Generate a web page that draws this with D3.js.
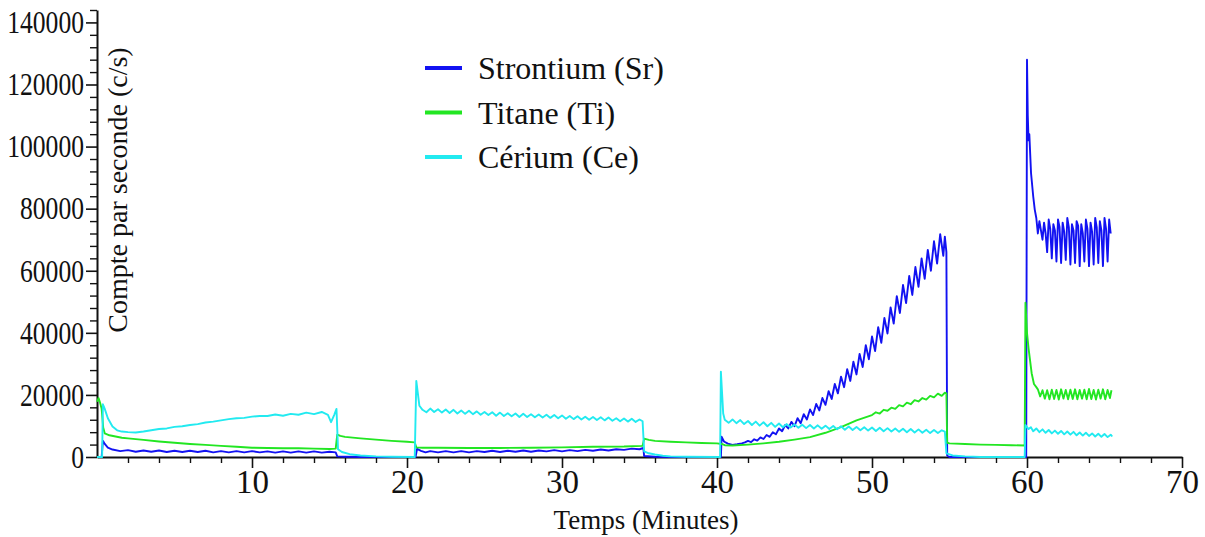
<!DOCTYPE html>
<html lang="fr">
  <head>
    <meta charset="UTF-8" />
    <title>Compte par seconde : Sr, Ti, Ce</title>
    <script src="https://d3js.org/d3.v7.min.js"></script>
    <style>
      body { margin: 0; background: #fff; }
      svg text { font-family: "Liberation Serif", "Times New Roman", serif; fill: #111; }
      .axis path, .axis line { stroke: #111; }
    </style>
  </head>
  <body>
    <svg id="chart" width="1205" height="537"></svg>
    <script>
      // tick labels
      const xTicks = [10, 20, 30, 40, 50, 60, 70];
      const yTicks = [0, 20000, 40000, 60000, 80000, 100000, 120000, 140000];

      // series names and colours
      const seriesNames = ["Strontium (Sr)", "Titane (Ti)", "Cérium (Ce)"];
      const seriesColors = ["#1212f2", "#22e622", "#22eaf0"];

      // [minute, counts per second]
      const strontium = [
        [0, 0], [0.3, 0], [0.38, 5200], [0.5, 4200], [0.7, 3000], [1.0, 2400], [1.5, 1900], [2.0, 2200],
        [2.5, 1700], [3.0, 2100], [3.5, 1700], [4.0, 2100], [4.5, 1600], [5.0, 2000], [5.5, 1600], [6.0, 2000],
        [6.5, 1600], [7.0, 2000], [7.5, 1500], [8.0, 1900], [8.5, 1500], [9.0, 1900], [9.5, 1500], [10.0, 1900],
        [10.5, 1500], [11.0, 1800], [11.5, 1400], [12.0, 1800], [12.5, 1400], [13.0, 1800], [13.5, 1400],
        [14.0, 1800], [14.5, 1400], [15.0, 1700], [15.4, 1500], [15.5, 200], [16, 100], [17, 0], [20.55, 0],
        [20.65, 2600], [20.9, 2000], [21.2, 1500], [21.5, 1900], [22, 1500], [22.5, 1900], [23, 1500], [23.5, 1900],
        [24, 1500], [24.5, 1900], [25, 1600], [25.5, 2000], [26, 1600], [26.5, 2000], [27, 1700], [27.5, 2100],
        [28, 1700], [28.5, 2100], [29, 1800], [29.5, 2200], [30, 1800], [30.5, 2200], [31, 1900], [31.5, 2300],
        [32, 2000], [32.5, 2400], [33, 2100], [33.5, 2500], [34, 2300], [34.5, 2700], [35, 2500], [35.25, 2900],
        [35.3, 300], [36, 100], [37, 0], [40.25, 0], [40.3, 6500], [40.45, 5000], [40.7, 4300], [41, 3900],
        [41.3, 4100], [41.6, 4400], [41.8, 4700],
        [42.0, 5200], [42.2, 4800], [42.4, 5700], [42.6, 5300], [42.8, 6300], [43.0, 5800], [43.2, 7100],
        [43.4, 6500], [43.6, 8000], [43.8, 7300], [44.0, 9200], [44.2, 8300], [44.4, 10300], [44.6, 9200],
        [44.8, 11300], [45.0, 9900], [45.2, 12500], [45.4, 10900], [45.6, 13800], [45.8, 12100], [46.0, 15300],
        [46.2, 13500], [46.4, 17100], [46.6, 15000], [46.8, 19000], [47.0, 16800], [47.2, 21200], [47.4, 18700],
        [47.6, 23500], [47.8, 20500], [48.0, 25900], [48.2, 22500], [48.4, 28300], [48.6, 24500], [48.8, 30700],
        [49.0, 26600], [49.2, 33200], [49.4, 29000], [49.6, 36000], [49.8, 31500], [50.0, 38800], [50.2, 34100],
        [50.4, 41800], [50.6, 36800], [50.8, 44800], [51.0, 39800], [51.2, 48200], [51.4, 43000], [51.6, 51800],
        [51.8, 46400], [52.0, 55400], [52.2, 49600], [52.4, 58300], [52.6, 52200], [52.8, 61200], [53.0, 54800],
        [53.2, 64000], [53.4, 57400], [53.6, 66700], [53.8, 60000], [54.0, 69500], [54.2, 62300], [54.4, 71800],
        [54.6, 64800], [54.7, 71000], [54.8, 66000], [54.85, 500], [55, 0], [59.95, 0],
        [60.0, 128000], [60.05, 110000], [60.1, 102000], [60.15, 104000], [60.26, 91500], [60.4, 84000],
        [60.5, 79700], [60.6, 77000], [60.7, 72000],
        [60.8, 76000], [60.9, 73000], [61.0, 70000], [61.1, 75500], [61.2, 72000], [61.3, 66000], [61.4, 76500],
        [61.5, 73500], [61.6, 64000], [61.7, 75000], [61.8, 73000], [61.9, 63000], [62.0, 76500], [62.1, 74000],
        [62.2, 62500], [62.3, 75500], [62.4, 72500], [62.5, 63500], [62.6, 77000], [62.7, 74000], [62.8, 62000],
        [62.9, 75000], [63.0, 73000], [63.1, 62500], [63.2, 76000], [63.3, 74500], [63.4, 61500], [63.5, 75000],
        [63.6, 72000], [63.7, 63000], [63.8, 76500], [63.9, 73500], [64.0, 61500], [64.1, 75500], [64.2, 72500],
        [64.3, 62000], [64.4, 77000], [64.5, 74000], [64.6, 62500], [64.7, 76000], [64.8, 73000], [64.9, 61500],
        [65.0, 77000], [65.1, 73500], [65.2, 63000], [65.3, 76500], [65.4, 72000]
      ];

      const titane = [
        [0, 17800], [0.1, 19000], [0.2, 17500], [0.3, 15500], [0.4, 9500], [0.5, 7600], [0.8, 7000], [1.2, 6600],
        [1.6, 6200], [2, 6000], [3, 5500], [4, 5000], [5, 4600], [6, 4200], [7, 3900], [8, 3600], [9, 3300],
        [10, 3000], [11, 2900], [12, 2800], [13, 2800], [14, 2700], [15, 2600], [15.4, 2700], [15.5, 7200],
        [15.7, 6800], [16, 6500], [17, 6000], [18, 5600], [19, 5200], [20, 4900], [20.5, 4700], [20.6, 3100],
        [21, 3000], [22, 3000], [24, 2900], [26, 2900], [28, 3000], [30, 3100], [32, 3300], [34, 3400],
        [35.2, 3600], [35.3, 5900], [35.6, 5500], [36, 5200], [37, 4900], [38, 4700], [39, 4500], [40, 4400],
        [40.3, 4200], [40.5, 3800], [41, 3700], [42, 4000], [43, 4400], [44, 4900], [45, 5600], [46, 6400],
        [47, 7800], [48, 9600], [49, 11800], [50, 13500], [50.25, 14400], [50.5, 14000], [50.75, 15200],
        [51, 14900], [51.25, 15900], [51.5, 15500], [51.75, 16700], [52, 16300], [52.25, 17500], [52.5, 17000],
        [52.75, 18300], [53, 17900], [53.25, 19000], [53.5, 18500], [53.75, 19700], [54, 19200], [54.25, 20400],
        [54.5, 19700], [54.7, 20700], [54.8, 20500], [54.85, 4600], [55, 4400], [56, 4200], [57, 4000],
        [58, 3900], [59, 3800], [59.85, 3700], [59.9, 49700], [60.0, 40000], [60.1, 35000], [60.3, 27000],
        [60.45, 23500], [60.6, 22500],
        [60.7, 21800], [60.85, 19500], [61.0, 21500], [61.15, 18800], [61.3, 21500], [61.45, 18600],
        [61.6, 21700], [61.75, 18700], [61.9, 21600], [62.05, 18500], [62.2, 21800], [62.35, 18800],
        [62.5, 21600], [62.65, 18600], [62.8, 21700], [62.95, 18700], [63.1, 21800], [63.25, 18600],
        [63.4, 21600], [63.55, 18800], [63.7, 21700], [63.85, 18600], [64.0, 21900], [64.15, 18700],
        [64.3, 21600], [64.45, 18500], [64.6, 21700], [64.75, 18800], [64.9, 21800], [65.05, 18600],
        [65.2, 21600], [65.35, 19000], [65.45, 21500]
      ];

      const cerium = [
        [0, 0], [0.33, 0], [0.38, 17000], [0.5, 15500], [0.7, 12500], [1.0, 9800], [1.3, 8600], [1.6, 8200],
        [2, 8000], [2.5, 7900], [3, 8200], [3.5, 8600], [4, 9000], [4.5, 9200], [5, 9700], [5.5, 9900],
        [6, 10300], [6.5, 10600], [7, 11100], [7.5, 11400], [8, 11800], [8.5, 12200], [9, 12500], [9.5, 12600],
        [10, 13000], [10.5, 13200], [11, 13200], [11.5, 13700], [12, 13300], [12.5, 13900], [13, 13600],
        [13.5, 14300], [14, 13800], [14.5, 14500], [14.9, 13600], [15.1, 11200], [15.3, 13500], [15.45, 15500],
        [15.55, 2500], [15.8, 1600], [16.3, 900], [17, 500], [18, 200], [19, 100], [20.5, 0], [20.6, 24500],
        [20.8, 16500],
        [21.0, 15200], [21.25, 14400], [21.5, 15600], [21.75, 14500], [22.0, 15400], [22.25, 14300],
        [22.5, 15300], [22.75, 14200], [23.0, 15200], [23.25, 14000], [23.5, 15000], [23.75, 13900],
        [24.0, 14900], [24.25, 13800], [24.5, 14700], [24.75, 13600], [25.0, 14500], [25.25, 13500],
        [25.5, 14400], [25.75, 13300], [26.0, 14300], [26.25, 13200], [26.5, 14100], [26.75, 13100],
        [27.0, 14000], [27.25, 12900], [27.5, 13900], [27.75, 12900], [28.0, 13800], [28.25, 12800],
        [28.5, 13700], [28.75, 12700], [29.0, 13600], [29.25, 12600], [29.5, 13500], [29.75, 12500],
        [30.0, 13400], [30.25, 12300], [30.5, 13200], [30.75, 12200], [31.0, 13100], [31.25, 12100],
        [31.5, 13000], [31.75, 12000], [32.0, 12900], [32.25, 11900], [32.5, 12800], [32.75, 11800],
        [33.0, 12700], [33.25, 11700], [33.5, 12500], [33.75, 11500], [34.0, 12400], [34.25, 11400],
        [34.5, 12300], [34.75, 11300], [35.0, 12100], [35.2, 11500], [35.3, 1800], [35.6, 1200], [36, 800],
        [36.5, 400], [37, 200], [38, 100], [40.2, 0], [40.25, 27500], [40.4, 14000], [40.5, 12000],
        [40.75, 11000], [41.0, 12100], [41.25, 10900], [41.5, 11900], [41.75, 10600], [42.0, 11600],
        [42.25, 10300], [42.5, 11400], [42.75, 10100], [43.0, 11200], [43.25, 9900], [43.5, 11000],
        [43.75, 9700], [44.0, 10800], [44.25, 9600], [44.5, 10600], [44.75, 9500], [45.0, 10500],
        [45.25, 9400], [45.5, 10400], [45.75, 9300], [46.0, 10300], [46.25, 9200], [46.5, 10200],
        [46.75, 9100], [47.0, 10100], [47.25, 9000], [47.5, 10000], [47.75, 8900], [48.0, 9900],
        [48.25, 8800], [48.5, 9800], [48.75, 8700], [49.0, 9700], [49.25, 8600], [49.5, 9600],
        [49.75, 8500], [50.0, 9500], [50.25, 8400], [50.5, 9400], [50.75, 8300], [51.0, 9300],
        [51.25, 8200], [51.5, 9200], [51.75, 8100], [52.0, 9100], [52.25, 8000], [52.5, 9000],
        [52.75, 7900], [53.0, 8900], [53.25, 7800], [53.5, 8800], [53.75, 7700], [54.0, 8700],
        [54.25, 7700], [54.5, 8600], [54.7, 8200], [54.8, 1200], [55.2, 500], [56, 200], [57, 0],
        [59.85, 0], [59.9, 10300], [60.1, 9000], [60.25, 9600], [60.4, 8300], [60.6, 9200], [60.8, 8000],
        [61.0, 8900], [61.2, 7800], [61.4, 8700], [61.6, 7600], [61.8, 8500], [62.0, 7500], [62.2, 8400],
        [62.4, 7300], [62.6, 8200], [62.8, 7200], [63.0, 8100], [63.2, 7000], [63.4, 7900], [63.6, 6900],
        [63.8, 7800], [64.0, 6800], [64.2, 7600], [64.4, 6600], [64.6, 7500], [64.8, 6500], [65.0, 7400],
        [65.2, 6400], [65.4, 7200], [65.5, 6600]
      ];

      const svg = d3.select("#chart");
      const x0 = 97, x1 = 1182, yBottom = 457, yTop = 10;

      const x = d3.scaleLinear().domain([0, 70]).range([x0, x1]);
      const y = d3.scaleLinear().domain([0, 144000]).range([yBottom, yTop]);

      // minor ticks
      const xMinor = d3.range(2, 70, 2).filter((d) => d % 10 !== 0);
      const yMinor = d3.range(4000, 144001, 4000).filter((d) => d % 20000 !== 0);

      svg.append("g")
        .attr("class", "axis")
        .attr("transform", `translate(0,${yBottom})`)
        .call(d3.axisBottom(x).tickValues(xMinor).tickSize(6).tickFormat(""))
        .call((g) => g.select(".domain").remove())
        .selectAll("line").attr("stroke-width", 1.4);

      const xAxis = svg.append("g")
        .attr("class", "axis")
        .attr("transform", `translate(0,${yBottom})`)
        .call(d3.axisBottom(x).tickValues(xTicks).tickSize(11).tickSizeOuter(0).tickPadding(2));
      xAxis.select(".domain").attr("stroke-width", 2);
      xAxis.selectAll("line").attr("stroke-width", 1.6);
      xAxis.selectAll("text").style("font-size", "33px").attr("fill", "#111");

      svg.append("g")
        .attr("class", "axis")
        .attr("transform", `translate(${x0},0)`)
        .call(d3.axisLeft(y).tickValues(yMinor).tickSize(7).tickFormat(""))
        .call((g) => g.select(".domain").remove())
        .selectAll("line").attr("stroke-width", 1.4);

      const yAxis = svg.append("g")
        .attr("class", "axis")
        .attr("transform", `translate(${x0},0)`)
        .call(d3.axisLeft(y).tickValues(yTicks).tickSize(11).tickSizeOuter(0).tickPadding(2).tickFormat(d3.format("d")));
      yAxis.select(".domain").attr("stroke-width", 2);
      yAxis.selectAll("line").attr("stroke-width", 1.6);
      yAxis.selectAll("text")
        .style("font-size", "32px")
        .attr("fill", "#111")
        .attr("textLength", (d) => String(d).length * 12.8)
        .attr("lengthAdjust", "spacingAndGlyphs");

      // lines
      const line = d3.line().x((d) => x(d[0])).y((d) => y(d[1]));
      [strontium, titane, cerium].forEach((data, i) => {
        svg.append("path")
          .datum(data)
          .attr("fill", "none")
          .attr("stroke", seriesColors[i])
          .attr("stroke-width", 1.9)
          .attr("stroke-linejoin", "round")
          .attr("d", line);
      });

      // axis titles
      svg.append("text")
        .attr("x", 646)
        .attr("y", 529)
        .attr("text-anchor", "middle")
        .style("font-size", "27px")
        .text("Temps (Minutes)");

      svg.append("text")
        .attr("transform", "translate(127,190) rotate(-90)")
        .attr("text-anchor", "middle")
        .style("font-size", "28px")
        .text("Compte par seconde (c/s)");

      // legend
      const legend = svg.append("g").attr("transform", "translate(425,68)");
      seriesNames.forEach((name, i) => {
        const row = legend.append("g").attr("transform", `translate(0,${i * 44.5})`);
        row.append("line")
          .attr("x1", 0).attr("x2", 37)
          .attr("stroke", seriesColors[i])
          .attr("stroke-width", 4);
        row.append("text")
          .attr("x", 53)
          .attr("y", 11)
          .style("font-size", "32px")
          .text(name);
      });
    </script>
  </body>
</html>
